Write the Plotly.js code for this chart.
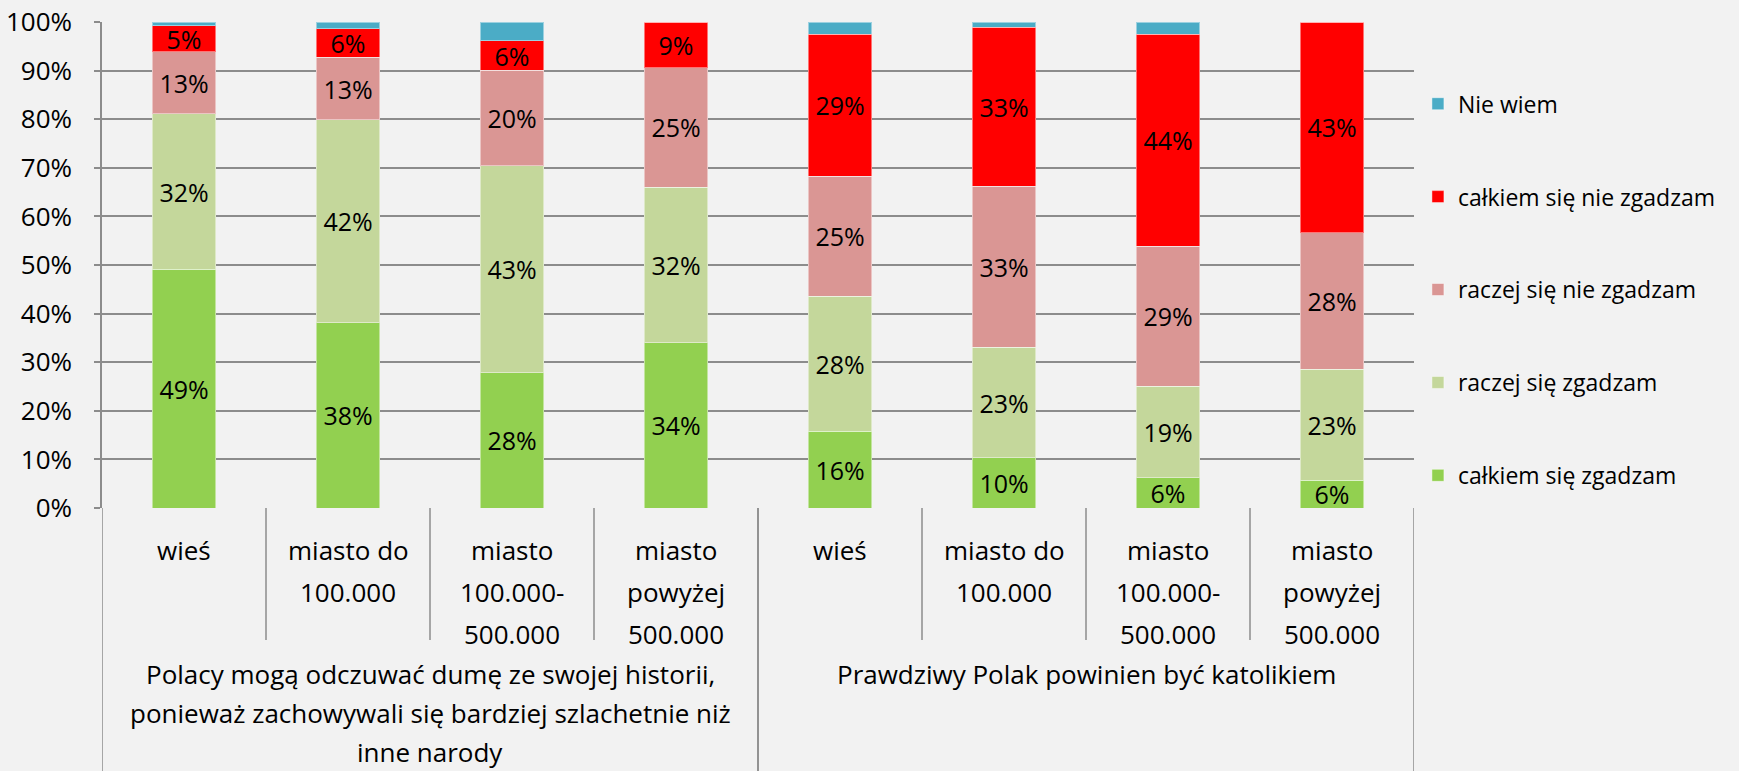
<!DOCTYPE html>
<html>
<head>
<meta charset="utf-8">
<script src="https://cdn.plot.ly/plotly-3.0.1.min.js"></script>
<style>
  html, body { margin: 0; padding: 0; background: #f2f2f2; }
  #myDiv { width: 1739px; height: 771px; }
</style>
</head>
<body>
<div id="myDiv"></div>
<script>
// sub-categories (drawn on several lines) and the two questions
var places = [['wieś'], ['miasto do', '100.000'], ['miasto', '100.000-', '500.000'], ['miasto', 'powyżej', '500.000']];
var questions = [
  ['Polacy mogą odczuwać dumę ze swojej historii,', 'ponieważ zachowywali się bardziej szlachetnie niż', 'inne narody'],
  ['Prawdziwy Polak powinien być katolikiem']
];

var calkiemZgadzam = [0.491, 0.381, 0.278, 0.340, 0.158, 0.103, 0.062, 0.057];
var raczejZgadzam  = [0.320, 0.418, 0.426, 0.320, 0.278, 0.228, 0.189, 0.228];
var raczejNie      = [0.128, 0.128, 0.197, 0.246, 0.247, 0.331, 0.288, 0.281];
var calkiemNie     = [0.053, 0.059, 0.060, 0.094, 0.292, 0.327, 0.436, 0.434];
var nieWiem        = [0.008, 0.014, 0.039, 0.000, 0.025, 0.011, 0.025, 0.000];

var font = '"Open Sans", sans-serif';
var fsLabel = 26, fsBar = 25, fsLegend = 23;

var x = [];
for (var q = 0; q < questions.length; q++) {
  for (var p = 0; p < places.length; p++) x.push(q * places.length + p);
}

function bar(name, y, color, showText, rank) {
  return {
    type: 'bar', x: x, y: y, name: name, legendgroup: name, legendrank: rank,
    width: 0.39,
    marker: {color: color, line: {color: 'rgba(255,255,255,0.45)', width: 1}},
    texttemplate: showText ? '%{y:.0%}' : '',
    textposition: showText ? 'inside' : 'none',
    insidetextanchor: 'middle',
    textangle: 0,
    textfont: {family: font, size: fsBar, color: '#000'},
    hoverinfo: 'name+y'
  };
}

var data = [
  bar('całkiem się zgadzam', calkiemZgadzam, '#92d050', true, 5),
  bar('raczej się zgadzam', raczejZgadzam, '#c4d79b', true, 4),
  bar('raczej się nie zgadzam', raczejNie, '#da9694', true, 3),
  bar('całkiem się nie zgadzam', calkiemNie, '#ff0000', true, 2),
  bar('Nie wiem', nieWiem, '#4bacc6', false, 1)
];

var annotations = [];
var shapes = [];
var n = places.length * questions.length;
var axisCol = '#8c8c8c';

// labels under the bars, one annotation per text line
for (var i = 0; i < n; i++) {
  var lines = places[i % places.length];
  for (var k = 0; k < lines.length; k++) {
    annotations.push({
      x: i, xref: 'x', y: 0, yref: 'paper', yanchor: 'middle',
      yshift: -42 - k * 42, text: lines[k], showarrow: false,
      font: {family: font, size: fsLabel, color: '#000'}
    });
  }
  // short divider after each sub-category inside a group
  if ((i + 1) % places.length !== 0) {
    shapes.push({type: 'line', xref: 'x', yref: 'paper', x0: i + 0.5, x1: i + 0.5,
      y0: 0, y1: -132 / 486, line: {color: axisCol, width: 1.5}});
  }
}
for (var g = 0; g < questions.length; g++) {
  var cx = g * places.length + (places.length - 1) / 2;
  for (var k = 0; k < questions[g].length; k++) {
    annotations.push({
      x: cx, xref: 'x', y: 0, yref: 'paper', yanchor: 'middle',
      yshift: -166 - k * 39, text: questions[g][k], showarrow: false,
      font: {family: font, size: fsLabel, color: '#000'}
    });
  }
  // long dividers around each group
  [g * places.length - 0.5, (g + 1) * places.length - 0.5].forEach(function (bx) {
    shapes.push({type: 'line', xref: 'x', yref: 'paper', x0: bx, x1: bx,
      y0: 0, y1: -270 / 486, line: {color: axisCol, width: 1.5}});
  });
}

var layout = {
  width: 1739, height: 771,
  margin: {l: 102, r: 325, t: 22, b: 263},
  paper_bgcolor: '#f2f2f2', plot_bgcolor: '#f2f2f2',
  barmode: 'stack',
  font: {family: font, size: fsLabel, color: '#000'},
  showlegend: true,
  legend: {
    x: 1.003, xanchor: 'left', y: 0.876, yanchor: 'top',
    traceorder: 'grouped', tracegroupgap: 60,
    font: {family: font, size: fsLegend, color: '#000'},
    bgcolor: 'rgba(0,0,0,0)'
  },
  xaxis: {
    range: [-0.5, n - 0.5], showticklabels: false, showgrid: false,
    zeroline: false, showline: false, ticks: '', fixedrange: true
  },
  yaxis: {
    range: [0, 1], dtick: 0.1, tickformat: '.0%',
    showgrid: true, gridcolor: axisCol, gridwidth: 1.5,
    showline: true, linecolor: axisCol, linewidth: 1.5,
    ticks: 'outside', ticklen: 6, tickcolor: axisCol, tickwidth: 1.5,
    ticklabelstandoff: 17,
    zeroline: false,
    tickfont: {family: font, size: fsLabel, color: '#000'}
  },
  shapes: shapes,
  annotations: annotations,
  uniformtext: {minsize: fsBar, mode: 'show'}
};

Plotly.newPlot('myDiv', data, layout, {displayModeBar: false});
</script>
</body>
</html>
